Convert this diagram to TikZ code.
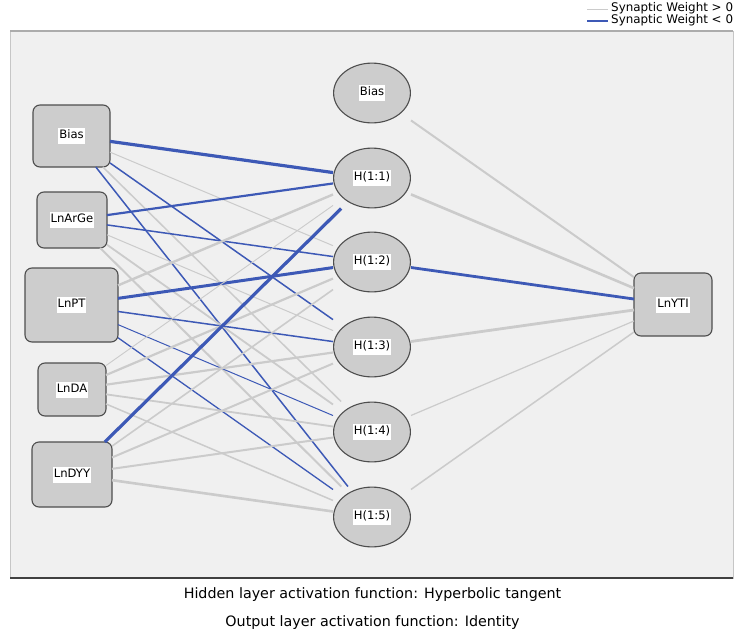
\documentclass[tikz,border=0pt]{standalone}
\usepackage{fontspec}
\setmainfont{DejaVu Sans}
\definecolor{panelfill}{RGB}{240,240,240}
\definecolor{nodefill}{RGB}{205,205,205}
\definecolor{nodeline}{RGB}{78,78,78}
\definecolor{posgray}{RGB}{203,203,203}
\definecolor{negblue}{RGB}{61,89,182}
\def\lblfont{\fontsize{11.6}{14}\selectfont}
\def\lbl#1{\setlength{\fboxsep}{1pt}\colorbox{white}{\strut #1}}
\tikzset{
  unit/.style={rectangle, rounded corners=7pt, draw=nodeline, line width=1.1pt,
    fill=nodefill, inner sep=0pt, outer sep=0pt, font=\lblfont},
  hid/.style={rectangle, minimum width=78pt, minimum height=61pt, inner sep=0pt,
    outer sep=0pt, fill=panelfill, font=\lblfont,
    path picture={\draw[draw=nodeline, line width=1.1pt, fill=nodefill]
      (path picture bounding box.center) ellipse [x radius=38.4pt, y radius=29.9pt];}},
  posw/.style={draw=posgray, line width=#1pt},
  negw/.style={draw=negblue, line width=#1pt},
}

\begin{document}
\begin{tikzpicture}[x=1pt,y=-1pt]
\useasboundingbox (0,0) rectangle (734,635);

    % legend
    \draw[posgray, line width=1pt] (587,9.5) -- (608,9.5);
    \draw[negblue, line width=1.5pt] (587,21) -- (608,21);
    \node[anchor=west, inner sep=0pt, font=\fontsize{11.9}{13}\selectfont] (legpos) at (611,8.5) {Synaptic Weight > 0};
    \node[anchor=west, inner sep=0pt, font=\fontsize{11.9}{13}\selectfont] (legneg) at (611,20.5) {Synaptic Weight < 0};

    % panel
    \draw[draw=gray!45, fill=panelfill] (10,31) rectangle (733,578);
    \draw[gray!65, line width=1.5pt] (10,31) -- (733,31);
    \draw[black!75, line width=1.5pt] (10,578) -- (733,578);

    % input layer
    \node[unit, minimum width=77pt, minimum height=62pt] (inb) at (71.5,136) {\lbl{Bias}};
    \node[unit, minimum width=70pt, minimum height=56pt] (inarge) at (72,220) {\lbl{LnArGe}};
    \node[unit, minimum width=93pt, minimum height=74pt] (inpt) at (71.5,305) {\lbl{LnPT}};
    \node[unit, minimum width=68pt, minimum height=53pt] (inda) at (72,389.5) {\lbl{LnDA}};
    \node[unit, minimum width=80pt, minimum height=65pt] (indyy) at (72,474.5) {\lbl{LnDYY}};

    % hidden layer
    \node[hid] (hb) at (372,93) {\lbl{Bias}};
    \node[hid] (h1) at (372,178) {\lbl{H(1:1)}};
    \node[hid] (h2) at (372,262) {\lbl{H(1:2)}};
    \node[hid] (h3) at (372,347) {\lbl{H(1:3)}};
    \node[hid] (h4) at (372,432) {\lbl{H(1:4)}};
    \node[hid] (h5) at (372,517) {\lbl{H(1:5)}};

    % output layer
    \node[unit, minimum width=78pt, minimum height=63pt] (out) at (673,304.5) {\lbl{LnYTI}};

    % weights input -> hidden
    \draw[negw=3.2] (inb) -- (h1);
    \draw[posw=1.0] (inb) -- (h2);
    \draw[negw=1.5] (inb) -- (h3);
    \draw[posw=1.5] (inb) -- (h4);
    \draw[negw=1.5] (inb) -- (h5);
    \draw[negw=2.2] (inarge) -- (h1);
    \draw[negw=1.5] (inarge) -- (h2);
    \draw[posw=1.0] (inarge) -- (h3);
    \draw[posw=1.8] (inarge) -- (h4);
    \draw[posw=2.0] (inarge) -- (h5);
    \draw[posw=2.4] (inpt) -- (h1);
    \draw[negw=3.0] (inpt) -- (h2);
    \draw[negw=1.5] (inpt) -- (h3);
    \draw[negw=1.0] (inpt) -- (h4);
    \draw[negw=1.3] (inpt) -- (h5);
    \draw[posw=0.9] (inda) -- (h1);
    \draw[posw=2.2] (inda) -- (h2);
    \draw[posw=2.2] (inda) -- (h3);
    \draw[posw=1.8] (inda) -- (h4);
    \draw[posw=1.5] (inda) -- (h5);
    \draw[negw=3.2] (indyy) -- (h1);
    \draw[posw=1.6] (indyy) -- (h2);
    \draw[posw=2.0] (indyy) -- (h3);
    \draw[posw=2.0] (indyy) -- (h4);
    \draw[posw=2.6] (indyy) -- (h5);

    % weights hidden -> output
    \draw[posw=2.0] (hb) -- (out);
    \draw[posw=2.6] (h1) -- (out);
    \draw[negw=2.8] (h2) -- (out);
    \draw[posw=2.8] (h3) -- (out);
    \draw[posw=1.2] (h4) -- (out);
    \draw[posw=1.5] (h5) -- (out);

    % activation functions
    \node[font=\fontsize{14.3}{16}\selectfont] (acthid) at (372.5,595) {Hidden layer activation function: Hyperbolic tangent};
    \node[font=\fontsize{14.3}{16}\selectfont] (actout) at (372.5,623) {Output layer activation function: Identity};

\end{tikzpicture}
\end{document}
